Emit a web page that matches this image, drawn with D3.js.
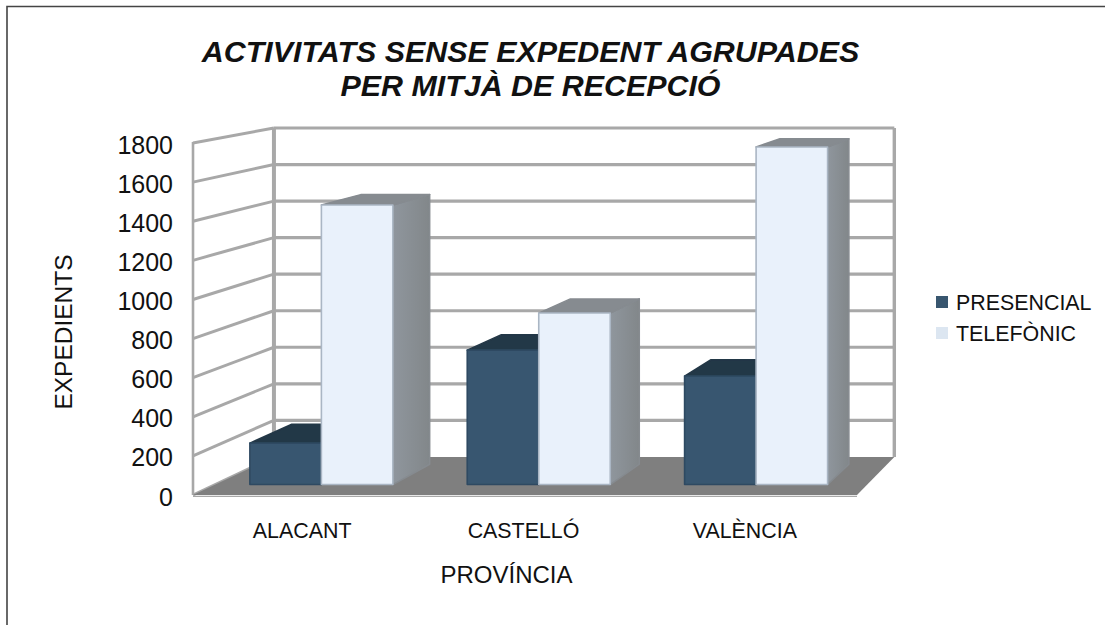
<!DOCTYPE html>
<html><head><meta charset="utf-8">
<script src="https://cdn.jsdelivr.net/npm/d3@7"></script>
<style>html,body{margin:0;padding:0;background:#fff}svg{display:block}text{font-family:"Liberation Sans",Arial,sans-serif;fill:#111}</style>
</head><body><svg id="c" width="1105" height="625"></svg>
<script>
const categories = ["ALACANT","CASTELLÓ","VALÈNCIA"];
const seriesNames = ["PRESENCIAL","TELEFÒNIC"];
const presencial = [216,700,565];
const telefonic = [1456,893,1758];
const yTicks = [0,200,400,600,800,1000,1200,1400,1600,1800];

const W=1105,H=625;
const svg=d3.select("#c");
const defs=svg.append("defs");
defs.append("filter").attr("id","soft").attr("x","-5%").attr("y","-5%").attr("width","110%").attr("height","110%")
  .append("feGaussianBlur").attr("stdDeviation",0.55);
function grad(id,a,b){const g=defs.append("linearGradient").attr("id",id);g.append("stop").attr("offset","0").attr("stop-color",a);g.append("stop").attr("offset","1").attr("stop-color",b);}
grad("sideT","#8f969d","#82878a");
grad("sideP","#1f3240","#1b2a36");

const vp=[1425,-85];
const kWall=0.0657,kFront=0.018,kBack=0.053;
const xL=193,xR=857;
const x=d3.scaleBand().domain(categories).range([xL-2.5,xR-2.5]).paddingInner(0.342).paddingOuter(0.171);
const xs=d3.scaleBand().domain(seriesNames).range([0,x.bandwidth()]);
const y=d3.scaleLinear().domain([0,1800]).range([495,143]);
const proj=(X,Y,k)=>[X+(vp[0]-X)*k,Y+(vp[1]-Y)*k];
const pts=a=>a.map(p=>p.join(",")).join(" ");

// frame
svg.append("path").attr("d",`M7,${H}V6.5H${W}`).attr("fill","none").attr("stroke","#444").attr("stroke-width",1.6);

const plot=svg.append("g").attr("filter","url(#soft)");
const gc="#a8a8a8";
const line=(a,b,w)=>plot.append("line").attr("x1",a[0]).attr("y1",a[1]).attr("x2",b[0]).attr("y2",b[1]).attr("stroke",gc).attr("stroke-width",w);
// walls
yTicks.forEach(t=>{
  const fl=[xL,y(t)],bl=proj(xL,y(t),kWall),br=proj(xR,y(t),kWall);
  line(fl,bl,3);
  if(t>0) line(bl,br,3.2);
});
line([xL,y(1800)-1],[xL,y(0)],2.6);
line(proj(xL,y(1800),kWall),proj(xL,y(0),kWall),4);
line(proj(xR,y(1800),kWall),proj(xR,y(0),kWall),3.4);
// floor
plot.append("polygon").attr("points",pts([[xL,y(0)],proj(xL,y(0),kWall),proj(xR,y(0),kWall),[xR,y(0)]])).attr("fill","#7f7f7f");
line([xL,y(0)+1.4],[xR,y(0)+1.4],1.4);

// bars
const st=[
 {name:seriesNames[0],vals:presencial,front:"#38566f",top:"#233746",side:"url(#sideP)",edge:"#2d4a62",sideEdge:"#1f3240"},
 {name:seriesNames[1],vals:telefonic,front:"#e9f1fb",top:"#868b90",side:"url(#sideT)",edge:"#aab6c4",sideEdge:"#868b90"}];
categories.forEach((c,i)=>{
  st.forEach(s=>{
    const X0=x(c)+xs(s.name),X1=X0+xs.bandwidth(),Yt=y(s.vals[i]),Yb=y(0);
    const f=[proj(X0,Yt,kFront),proj(X1,Yt,kFront),proj(X1,Yb,kFront),proj(X0,Yb,kFront)];
    const bt=[proj(X0,Yt,kBack),proj(X1,Yt,kBack),proj(X1,Yb,kBack)];
    const g=plot.append("g").attr("stroke-linejoin","round");
    g.append("polygon").attr("points",pts([f[1],bt[1],bt[2],f[2]])).attr("fill",s.side).attr("stroke",s.sideEdge).attr("stroke-width",1.5);
    g.append("polygon").attr("points",pts([f[0],bt[0],bt[1],f[1]])).attr("fill",s.top).attr("stroke",s.top).attr("stroke-width",1.5);
    g.append("polygon").attr("points",pts(f)).attr("fill",s.front).attr("stroke",s.edge).attr("stroke-width",1.6);
  });
});

// y axis labels
svg.append("g").selectAll("text").data(yTicks).join("text")
  .attr("x",173).attr("y",t=>y(t)+10.5).attr("text-anchor","end").attr("font-size",25).text(t=>t);
// x labels
svg.append("g").selectAll("text").data(categories).join("text")
  .attr("x",c=>x(c)+x.bandwidth()/2+1).attr("y",538).attr("text-anchor","middle").attr("font-size",21.4).text(c=>c);
// titles
const title=svg.append("text").attr("text-anchor","middle").attr("font-size",30.4).attr("font-weight","bold").attr("font-style","italic");
title.append("tspan").attr("x",530.5).attr("y",62).text("ACTIVITATS SENSE EXPEDENT AGRUPADES");
title.append("tspan").attr("x",530.5).attr("y",96).text("PER MITJÀ DE RECEPCIÓ");
svg.append("text").attr("x",506.5).attr("y",583).attr("text-anchor","middle").attr("font-size",24).text("PROVÍNCIA");
svg.append("text").attr("transform","translate(72,332) rotate(-90)").attr("text-anchor","middle").attr("font-size",24.5).text("EXPEDIENTS");
// legend
const legY=d3.scalePoint().domain(seriesNames).range([302,333]);
const legCol=d3.scaleOrdinal().domain(seriesNames).range(["#38566f","#dce6f1"]);
seriesNames.forEach(n=>{
  svg.append("rect").attr("x",936).attr("y",legY(n)-6).attr("width",12).attr("height",12).attr("fill",legCol(n));
  svg.append("text").attr("x",956).attr("y",legY(n)+8).attr("font-size",21.4).text(n);
});
</script></body></html>
